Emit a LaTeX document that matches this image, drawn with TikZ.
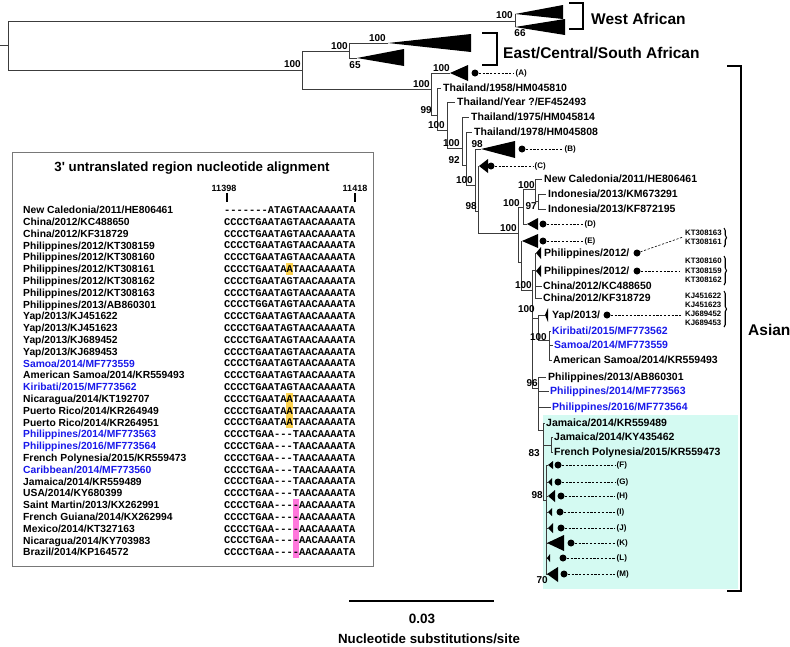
\documentclass[tikz,border=0pt]{standalone}
\usepackage{fontspec}
\setmainfont{Liberation Sans}
\newfontfamily\seqfont{Liberation Mono}
\usetikzlibrary{decorations.pathreplacing}
\definecolor{tcol}{RGB}{60,60,60}
\definecolor{bl}{RGB}{25,25,235}
\definecolor{cy}{RGB}{212,250,242}
\definecolor{hy}{RGB}{255,212,80}
\definecolor{hp}{RGB}{255,120,220}
\definecolor{boxc}{RGB}{120,120,120}
\newcommand\gp{\mbox{-}}
\begin{document}
\begin{tikzpicture}[x=1pt,y=-1pt,
  br/.style={line width=0.8pt,draw=tcol},
  tl/.style={anchor=west,inner sep=0pt,text height=7.5pt,text depth=0pt,font=\fontsize{10.5}{12}\selectfont\bfseries},
  nl/.style={anchor=east,inner sep=0pt,text height=7.2pt,text depth=0pt,font=\fontsize{10}{11}\selectfont\bfseries},
  big/.style={anchor=west,inner sep=0pt,text height=11pt,text depth=0pt,font=\fontsize{15.5}{17}\selectfont\bfseries},
  cl/.style={anchor=west,inner sep=1.5pt,text height=5.8pt,text depth=0pt,font=\fontsize{8}{9}\selectfont\bfseries},
  kl/.style={anchor=west,inner sep=0pt,text height=5.6pt,text depth=0pt,font=\fontsize{7.8}{9}\selectfont\bfseries},
  dot/.style={circle,fill=black,inner sep=0pt,minimum size=7pt},
  dsh/.style={line width=0.6pt,dash pattern=on 2.2pt off 1.6pt},
  il/.style={anchor=west,inner sep=0pt,text height=7.4pt,text depth=0pt,font=\fontsize{10.3}{12}\selectfont\bfseries},
  sl/.style={anchor=west,inner sep=0pt,text height=6.8pt,text depth=0pt,font=\fontsize{10.4}{12}\seqfont\bfseries},
  brk/.style={line width=2.2pt,draw=black}
]
\useasboundingbox (0,0) rectangle (790,646);
\fill[white] (0,0) rectangle (790,646);

% ---------- cyan box ----------
\fill[cy] (543,415) rectangle (738,589);

% ---------- tree: root and African clades ----------
\draw[br] (0,45) -- (8,45);
\draw[br] (8,21) -- (8,70);
\draw[br] (8,21) -- (515,21);
\draw[br] (515,14) -- (515,27);
\fill (515,14) -- (563,5) -- (563,19) -- cycle;
\fill (515,27) -- (565,19) -- (565,35) -- cycle;
\draw[br] (8,70) -- (302,70);
\draw[br] (302,51) -- (302,89);
\draw[br] (302,51) -- (349,51);
\draw[br] (349,43) -- (349,58);
\draw[br] (349,43) -- (388,43);
\fill (388,43) -- (471,34) -- (471,52) -- cycle;
\draw[br] (349,58) -- (357,58);
\fill (357,58) -- (404,49) -- (404,66) -- cycle;
\draw[br] (302,89) -- (431,89);

% ---------- Asian backbone ----------
\draw[br] (431,73) -- (431,115);
\draw[br] (431,73) -- (450,73);
\fill (450,73) -- (468,65) -- (468,81) -- cycle;
\draw[br] (431,115) -- (437,115);
\draw[br] (437,88) -- (437,130);
\draw[br] (437,88) -- (441,88);
\draw[br] (437,130) -- (447,130);
\draw[br] (447,102) -- (447,148);
\draw[br] (447,102) -- (455,102);
\draw[br] (447,148) -- (462,148);
\draw[br] (462,117) -- (462,165);
\draw[br] (462,117) -- (469,117);
\draw[br] (462,165) -- (466,165);
\draw[br] (466,132) -- (466,185);
\draw[br] (466,132) -- (472,132);
\draw[br] (466,185) -- (475,185);
\draw[br] (475,149) -- (475,211);
\draw[br] (475,149) -- (481,149);
\fill (481,149) -- (515,141) -- (515,158) -- cycle;
\draw[br] (475,211) -- (478,211);
\draw[br] (478,166) -- (478,233);
\fill (479,166) -- (488,159) -- (488,173) -- cycle;
\draw[br] (478,233) -- (518,233);
\draw[br] (518,207) -- (518,262);
\draw[br] (518,207) -- (523,207);
\draw[br] (523,189) -- (523,224);
\draw[br] (523,224) -- (527,224);
\fill (527,224) -- (538,218) -- (538,230) -- cycle;
\draw[br] (523,189) -- (535,189);
\draw[br] (535,179) -- (535,201);
\draw[br] (535,179) -- (542,179);
\draw[br] (535,201) -- (538,201);
\draw[br] (538,194) -- (538,209);
\draw[br] (538,194) -- (546,194);
\draw[br] (538,209) -- (546,209);
\draw[br] (518,262) -- (521,262);
\draw[br] (521,241) -- (521,290);
\fill (522,241) -- (538,234) -- (538,248) -- cycle;
\draw[br] (521,290) -- (532,290);
\draw[br] (532,270) -- (532,388);
\draw[br] (532,270) -- (535,270);
\draw[br] (535,253) -- (535,298);
\fill (536,253) -- (541,247) -- (541,259) -- cycle;
\fill (536,271) -- (541,265) -- (541,277) -- cycle;
\draw[br] (535,286) -- (542,286);
\draw[br] (535,298) -- (542,298);
\draw[br] (532,318) -- (538,318);
\draw[br] (538,315) -- (538,340);
\draw[br] (538,315) -- (545,315);
\fill (545,315) -- (548,308) -- (548,322) -- cycle;
\draw[br] (538,340) -- (549,340);
\draw[br] (549,331) -- (549,360);
\draw[br] (549,331) -- (551,331);
\draw[br] (549,345) -- (553,345);
\draw[br] (549,360) -- (552,360);
\draw[br] (532,388) -- (538,388);
\draw[br] (538,377) -- (538,430);
\draw[br] (538,377) -- (546,377);
\draw[br] (538,391) -- (549,391);
\draw[br] (538,407) -- (551,407);
\draw[br] (538,430) -- (543,430);
\draw[br] (543,423) -- (543,500);
\draw[br] (543,423) -- (545,423);
\draw[br] (543,445) -- (551,445);
\draw[br] (551,437) -- (551,452);
\draw[br] (551,437) -- (553,437);
\draw[br] (551,452) -- (553,452);
\draw[br] (543,500) -- (546,500);
\draw[br] (546,465) -- (546,574);
\foreach \yy in {465,482,496,512,528,543,558,574} {\draw[br] (546,\yy) -- (548,\yy);}
\fill (548,465) -- (553,461) -- (553,469) -- cycle;
\fill (548,482) -- (552,478) -- (552,486) -- cycle;
\fill (548,496) -- (555,490) -- (555,502) -- cycle;
\fill (548,512) -- (552,508) -- (552,516) -- cycle;
\fill (548,528) -- (553,523) -- (553,533) -- cycle;
\fill (547,543) -- (564,535) -- (564,551) -- cycle;
\fill (547,558) -- (550,554) -- (550,562) -- cycle;
\fill (547,574) -- (558,567) -- (558,582) -- cycle;

% ---------- node support labels ----------
\node[nl] (b1) at (301,64) {100};
\node[nl] (b2) at (348,46) {100};
\node[nl] (b3) at (386,38) {100};
\node[nl,anchor=center] (b4) at (355,65) {65};
\node[nl] (b5) at (513,15) {100};
\node[nl,anchor=center] (b6) at (520,33) {66};
\node[nl] (b7) at (430,84) {100};
\node[nl] (b8) at (450,68) {100};
\node[nl] (b9) at (432,110) {99};
\node[nl] (b10) at (445,125) {100};
\node[nl] (b11) at (460,143) {100};
\node[nl] (b12) at (460,160) {92};
\node[nl] (b13) at (473,180) {100};
\node[nl] (b14) at (477,206) {98};
\node[nl] (b15) at (483,144) {98};
\node[nl] (b16) at (535,185) {100};
\node[nl] (b17) at (537,206) {97};
\node[nl] (b18) at (520,203) {100};
\node[nl] (b19) at (517,228) {100};
\node[nl] (b20) at (532,285) {100};
\node[nl] (b21) at (535,309) {100};
\node[nl] (b22) at (547,337) {100};
\node[nl] (b23) at (538,383) {96};
\node[nl] (b24) at (540,453) {83};
\node[nl] (b25) at (543,495) {98};
\node[nl] (b26) at (548,580) {70};

% ---------- leaf labels ----------
\node[tl] (t1) at (443,88) {Thailand/1958/HM045810};
\node[tl] (t2) at (457,102) {Thailand/Year ?/EF452493};
\node[tl] (t3) at (471,117) {Thailand/1975/HM045814};
\node[tl] (t4) at (474,132) {Thailand/1978/HM045808};
\node[tl] (t5) at (544,179) {New Caledonia/2011/HE806461};
\node[tl] (t6) at (548,194) {Indonesia/2013/KM673291};
\node[tl] (t7) at (548,209) {Indonesia/2013/KF872195};
\node[tl] (t8) at (544,253) {Philippines/2012/};
\node[tl] (t9) at (544,271) {Philippines/2012/};
\node[tl] (t10) at (543,286) {China/2012/KC488650};
\node[tl] (t11) at (543,298) {China/2012/KF318729};
\node[tl] (t12) at (552,315) {Yap/2013/};
\node[tl,text=bl] (t13) at (552,331) {Kiribati/2015/MF773562};
\node[tl,text=bl] (t14) at (554,345) {Samoa/2014/MF773559};
\node[tl] (t15) at (553,360) {American Samoa/2014/KR559493};
\node[tl] (t16) at (548,377) {Philippines/2013/AB860301};
\node[tl,text=bl] (t17) at (550,391) {Philippines/2014/MF773563};
\node[tl,text=bl] (t18) at (552,407) {Philippines/2016/MF773564};
\node[tl] (t19) at (546,423) {Jamaica/2014/KR559489};
\node[tl] (t20) at (554,437) {Jamaica/2014/KY435462};
\node[tl] (t21) at (554,452) {French Polynesia/2015/KR559473};

% ---------- collapsed clade markers ----------
\foreach \nm/\dx/\dy/\lx in {A/475/73/514, B/522/149/563, C/491/166/533, D/543/224/583, E/543/241/583,
  F/558/465/615, G/558/482/615, H/561/496/615, I/560/512/615, J/561/528/615, K/571/543/615, L/563/558/615, M/564/574/615} {
  \node[dot] (d\nm) at (\dx,\dy) {};
  \node[cl] (l\nm) at (\lx,\dy) {(\nm)};
  \draw[dsh] (d\nm) -- (l\nm);
}

% ---------- accession groups ----------
\node[dot] (p1) at (637,253) {};
\node[dot] (p2) at (637,271) {};
\node[dot] (p3) at (607,315) {};
\coordinate (q1) at (683,237);
\coordinate (q2) at (679,271);
\coordinate (q3) at (682,315);
\draw[dsh] (p1) -- (q1);
\draw[dsh] (p2) -- (q2);
\draw[dsh] (p3) -- (q3);
\node[kl] (k1) at (685,233) {KT308163};
\node[kl] (k2) at (685,242) {KT308161};
\node[kl] (k3) at (685,261) {KT308160};
\node[kl] (k4) at (685,270.5) {KT308159};
\node[kl] (k5) at (685,280) {KT308162};
\node[kl] (k6) at (685,296) {KJ451622};
\node[kl] (k7) at (685,305) {KJ451623};
\node[kl] (k8) at (685,314) {KJ689452};
\node[kl] (k9) at (685,323) {KJ689453};
\draw[line width=1.1pt,decorate,decoration={brace,amplitude=2.5pt}] (724,228) -- (724,247);
\draw[line width=1.1pt,decorate,decoration={brace,amplitude=2.5pt}] (724,256) -- (724,285);
\draw[line width=1.1pt,decorate,decoration={brace,amplitude=2.5pt}] (724,291) -- (724,327);

% ---------- brackets ----------
\draw[brk,line width=2pt] (569,3) -- (583,3) -- (583,29) -- (569,29);
\node[big] (wa) at (591,19) {West African};
\draw[brk,line width=2pt] (482,33) -- (497,33) -- (497,65) -- (482,65);
\node[big] (ecs) at (503,53) {East/Central/South African};
\draw[brk] (727,66) -- (741,66) -- (741,591) -- (727,591);
\node[big] (as) at (748,330) {Asian};

% ---------- scale bar ----------
\draw[line width=1.5pt] (349,601) -- (494,601);
\node[inner sep=0pt,font=\fontsize{13.5}{15}\selectfont\bfseries] (sc) at (422,619) {0.03};
\node[inner sep=0pt,font=\fontsize{13.3}{15}\selectfont\bfseries] (sct) at (429,639) {Nucleotide substitutions/site};

% ---------- inset ----------
\draw[boxc,line width=1pt] (12,152) rectangle (373,566);
\node[inner sep=0pt,font=\fontsize{13.3}{15}\selectfont\bfseries] (ttl) at (192,168) {3\textquotesingle{} untranslated region nucleotide alignment};
\node[inner sep=0pt,font=\fontsize{9}{10}\selectfont\bfseries] (n1) at (224,188) {11398};
\node[inner sep=0pt,font=\fontsize{9}{10}\selectfont\bfseries] (n2) at (355,188) {11418};
\draw[line width=1.2pt] (227,193) -- (227,202);
\draw[line width=1.2pt] (355,193) -- (355,202);
\fill[hy] (286.4,263) rectangle (292.6,275);
\fill[hy] (286.4,392.8) rectangle (292.6,428.4);
\fill[hp] (292.6,499) rectangle (298.9,558.2);

\node[il] (r0) at (23,210) {New Caledonia/2011/HE806461};
\node[il] (r1) at (23,221.8) {China/2012/KC488650};
\node[il] (r2) at (23,233.6) {China/2012/KF318729};
\node[il] (r3) at (23,245.4) {Philippines/2012/KT308159};
\node[il] (r4) at (23,257.2) {Philippines/2012/KT308160};
\node[il] (r5) at (23,269) {Philippines/2012/KT308161};
\node[il] (r6) at (23,280.8) {Philippines/2012/KT308162};
\node[il] (r7) at (23,292.6) {Philippines/2012/KT308163};
\node[il] (r8) at (23,304.4) {Philippines/2013/AB860301};
\node[il] (r9) at (23,316.2) {Yap/2013/KJ451622};
\node[il] (r10) at (23,328) {Yap/2013/KJ451623};
\node[il] (r11) at (23,339.8) {Yap/2013/KJ689452};
\node[il] (r12) at (23,351.6) {Yap/2013/KJ689453};
\node[il,text=bl] (r13) at (23,363.4) {Samoa/2014/MF773559};
\node[il] (r14) at (23,375.2) {American Samoa/2014/KR559493};
\node[il,text=bl] (r15) at (23,387) {Kiribati/2015/MF773562};
\node[il] (r16) at (23,398.8) {Nicaragua/2014/KT192707};
\node[il] (r17) at (23,410.6) {Puerto Rico/2014/KR264949};
\node[il] (r18) at (23,422.4) {Puerto Rico/2014/KR264951};
\node[il,text=bl] (r19) at (23,434.2) {Philippines/2014/MF773563};
\node[il,text=bl] (r20) at (23,446) {Philippines/2016/MF773564};
\node[il] (r21) at (23,457.8) {French Polynesia/2015/KR559473};
\node[il,text=bl] (r22) at (23,469.6) {Caribbean/2014/MF773560};
\node[il] (r23) at (23,481.4) {Jamaica/2014/KR559489};
\node[il] (r24) at (23,493.2) {USA/2014/KY680399};
\node[il] (r25) at (23,505) {Saint Martin/2013/KX262991};
\node[il] (r26) at (23,516.8) {French Guiana/2014/KX262994};
\node[il] (r27) at (23,528.6) {Mexico/2014/KT327163};
\node[il] (r28) at (23,540.4) {Nicaragua/2014/KY703983};
\node[il] (r29) at (23,552.2) {Brazil/2014/KP164572};

\node[sl] (s0) at (224,210) {\gp\gp\gp\gp\gp\gp\gp ATAGTAACAAAATA};
\node[sl] (s1) at (224,221.8) {CCCCTGAATAGTAACAAAATA};
\node[sl] (s2) at (224,233.6) {CCCCTGAATAGTAACAAAATA};
\node[sl] (s3) at (224,245.4) {CCCCTGAATAGTAACAAAATA};
\node[sl] (s4) at (224,257.2) {CCCCTGAATAGTAACAAAATA};
\node[sl] (s5) at (224,269) {CCCCTGAATAATAACAAAATA};
\node[sl] (s6) at (224,280.8) {CCCCTGAATAGTAACAAAATA};
\node[sl] (s7) at (224,292.6) {CCCCTGAATAGTAACAAAATA};
\node[sl] (s8) at (224,304.4) {CCCCTGGATAGTAACAAAATA};
\node[sl] (s9) at (224,316.2) {CCCCTGAATAGTAACAAAATA};
\node[sl] (s10) at (224,328) {CCCCTGAATAGTAACAAAATA};
\node[sl] (s11) at (224,339.8) {CCCCTGAATAGTAACAAAATA};
\node[sl] (s12) at (224,351.6) {CCCCTGAATAGTAACAAAATA};
\node[sl] (s13) at (224,363.4) {CCCCTGAATAGTAACAAAATA};
\node[sl] (s14) at (224,375.2) {CCCCTGAATAGTAACAAAATA};
\node[sl] (s15) at (224,387) {CCCCTGAATAGTAACAAAATA};
\node[sl] (s16) at (224,398.8) {CCCCTGAATAATAACAAAATA};
\node[sl] (s17) at (224,410.6) {CCCCTGAATAATAACAAAATA};
\node[sl] (s18) at (224,422.4) {CCCCTGAATAATAACAAAATA};
\node[sl] (s19) at (224,434.2) {CCCCTGAA\gp\gp\gp TAACAAAATA};
\node[sl] (s20) at (224,446) {CCCCTGAA\gp\gp\gp TAACAAAATA};
\node[sl] (s21) at (224,457.8) {CCCCTGAA\gp\gp\gp TAACAAAATA};
\node[sl] (s22) at (224,469.6) {CCCCTGAA\gp\gp\gp TAACAAAATA};
\node[sl] (s23) at (224,481.4) {CCCCTGAA\gp\gp\gp TAACAAAATA};
\node[sl] (s24) at (224,493.2) {CCCCTGAA\gp\gp\gp TAACAAAATA};
\node[sl] (s25) at (224,505) {CCCCTGAA\gp\gp\gp\gp AACAAAATA};
\node[sl] (s26) at (224,516.8) {CCCCTGAA\gp\gp\gp\gp AACAAAATA};
\node[sl] (s27) at (224,528.6) {CCCCTGAA\gp\gp\gp\gp AACAAAATA};
\node[sl] (s28) at (224,540.4) {CCCCTGAA\gp\gp\gp\gp AACAAAATA};
\node[sl] (s29) at (224,552.2) {CCCCTGAA\gp\gp\gp\gp AACAAAATA};
\end{tikzpicture}
\end{document}
